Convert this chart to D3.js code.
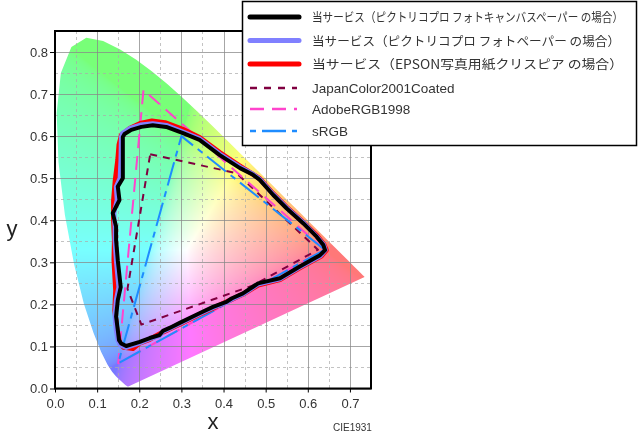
<!DOCTYPE html>
<html><head><meta charset="utf-8">
<script src="https://cdn.jsdelivr.net/npm/d3@7"></script>
<style>
html,body{margin:0;padding:0;background:#fff;}
#wrap{position:relative;width:640px;height:437px;overflow:hidden;}
#wrap canvas,#wrap svg{position:absolute;left:0;top:0;}
</style></head><body><div id="wrap"></div>
<script>
// CIE 1931 spectral locus (380-700nm)
const locusX=[0.1741,0.1740,0.1738,0.1736,0.1733,0.1730,0.1726,0.1721,0.1714,0.1703,0.1689,0.1669,0.1644,0.1611,0.1566,0.1510,0.1440,0.1355,0.1241,0.1096,0.0913,0.0687,0.0454,0.0235,0.0082,0.0039,0.0139,0.0389,0.0743,0.1142,0.1547,0.1929,0.2296,0.2658,0.3016,0.3373,0.3731,0.4087,0.4441,0.4788,0.5125,0.5448,0.5752,0.6029,0.6270,0.6482,0.6658,0.6801,0.6915,0.7006,0.7079,0.7140,0.7190,0.7230,0.7260,0.7283,0.7300,0.7311,0.7320,0.7334,0.7347];
const locusY=[0.0050,0.0050,0.0049,0.0049,0.0048,0.0048,0.0048,0.0048,0.0051,0.0058,0.0069,0.0086,0.0109,0.0138,0.0177,0.0227,0.0297,0.0399,0.0578,0.0868,0.1327,0.2007,0.2950,0.4127,0.5384,0.6548,0.7502,0.8120,0.8338,0.8262,0.8059,0.7816,0.7543,0.7243,0.6923,0.6589,0.6245,0.5896,0.5547,0.5202,0.4866,0.4544,0.4242,0.3965,0.3725,0.3514,0.3340,0.3197,0.3083,0.2993,0.2920,0.2859,0.2809,0.2770,0.2740,0.2717,0.2700,0.2689,0.2680,0.2666,0.2653];

const xTicks=[0.0,0.1,0.2,0.3,0.4,0.5,0.6,0.7];
const yTicks=[0.0,0.1,0.2,0.3,0.4,0.5,0.6,0.7,0.8];
const xMinor=[0.05,0.15,0.25,0.35,0.45,0.55,0.65,0.75];
const yMinor=[0.05,0.15,0.25,0.35,0.45,0.55,0.65,0.75,0.85];

// gamut outlines (x,y chromaticity)
const canvasPaper=[[0.165,0.605],[0.181,0.615],[0.205,0.622],[0.232,0.626],[0.264,0.622],[0.304,0.607],[0.343,0.591],[0.391,0.555],[0.439,0.524],[0.470,0.508],[0.486,0.496],[0.518,0.460],[0.550,0.428],[0.589,0.393],[0.621,0.361],[0.637,0.341],[0.641,0.329],[0.629,0.317],[0.581,0.290],[0.534,0.262],[0.482,0.250],[0.470,0.242],[0.446,0.226],[0.419,0.214],[0.407,0.206],[0.375,0.194],[0.343,0.179],[0.296,0.156],[0.272,0.144],[0.256,0.137],[0.248,0.127],[0.225,0.120],[0.201,0.111],[0.169,0.101],[0.157,0.107],[0.152,0.115],[0.149,0.139],[0.145,0.171],[0.149,0.210],[0.156,0.241],[0.149,0.305],[0.145,0.353],[0.145,0.385],[0.137,0.417],[0.153,0.448],[0.149,0.480],[0.161,0.500],[0.161,0.543],[0.161,0.598],[0.165,0.605]];
const photoPaper=[[0.160,0.607],[0.178,0.619],[0.203,0.627],[0.232,0.630],[0.264,0.626],[0.304,0.610],[0.343,0.594],[0.391,0.558],[0.439,0.527],[0.470,0.510],[0.486,0.498],[0.518,0.462],[0.550,0.430],[0.589,0.395],[0.621,0.362],[0.638,0.342],[0.642,0.329],[0.630,0.315],[0.581,0.288],[0.534,0.260],[0.482,0.248],[0.470,0.240],[0.446,0.224],[0.419,0.212],[0.407,0.204],[0.375,0.192],[0.343,0.177],[0.296,0.154],[0.272,0.142],[0.256,0.135],[0.248,0.125],[0.225,0.118],[0.201,0.108],[0.169,0.097],[0.155,0.103],[0.149,0.115],[0.145,0.139],[0.142,0.171],[0.145,0.210],[0.151,0.241],[0.145,0.305],[0.142,0.353],[0.142,0.385],[0.140,0.417],[0.147,0.448],[0.145,0.480],[0.154,0.500],[0.156,0.543],[0.157,0.598],[0.160,0.607]];
const epsonPaper=[[0.158,0.603],[0.178,0.619],[0.202,0.630],[0.230,0.636],[0.261,0.632],[0.302,0.617],[0.343,0.597],[0.391,0.561],[0.439,0.529],[0.486,0.499],[0.517,0.464],[0.550,0.431],[0.588,0.396],[0.622,0.363],[0.638,0.343],[0.644,0.329],[0.632,0.315],[0.581,0.287],[0.534,0.259],[0.482,0.246],[0.446,0.224],[0.405,0.205],[0.375,0.191],[0.343,0.176],[0.296,0.153],[0.256,0.134],[0.225,0.117],[0.201,0.108],[0.185,0.095],[0.163,0.098],[0.153,0.110],[0.147,0.139],[0.142,0.186],[0.144,0.233],[0.140,0.305],[0.141,0.352],[0.139,0.400],[0.139,0.447],[0.143,0.495],[0.149,0.543],[0.152,0.580],[0.158,0.603]];
const japanColor=[[0.226,0.557],[0.431,0.512],[0.624,0.330],[0.470,0.245],[0.205,0.152],[0.172,0.237],[0.226,0.557]];
const adobeRGB=[[0.64,0.33],[0.21,0.71],[0.15,0.06],[0.64,0.33]];
const sRGB=[[0.64,0.33],[0.30,0.60],[0.15,0.06],[0.64,0.33]];

const legendLabels=["当サービス（ピクトリコプロ フォトキャンバスペーパー の場合）","当サービス（ピクトリコプロ フォトペーパー の場合）","当サービス（EPSON写真用紙クリスピア の場合）","JapanColor2001Coated","AdobeRGB1998","sRGB"];

const W=640,H=437;
const x=d3.scaleLinear().domain([0,0.75]).range([55,371]);
const y=d3.scaleLinear().domain([0,0.85]).range([388.5,31]);

const wrap=d3.select("#wrap");
// ---- colour fill on canvas ----
const cv=wrap.append("canvas").attr("width",W).attr("height",H).node();
const ctx=cv.getContext("2d");
const off=document.createElement("canvas");off.width=W;off.height=H;
const octx=off.getContext("2d");
const img=octx.createImageData(W,H);
function toRGB(cx,cy){
  if(cy<=0.0005)cy=0.0005;
  const X=cx/cy,Y=1,Z=(1-cx-cy)/cy;
  let r=3.2406*X-1.5372*Y-0.4986*Z,g=-0.9689*X+1.8758*Y+0.0415*Z,b=0.0557*X-0.2040*Y+1.0570*Z;
  r=Math.max(r,0);g=Math.max(g,0);b=Math.max(b,0);
  const m=Math.max(r,g,b)||1;r/=m;g/=m;b/=m;
  const gm=v=>v<=0.0031308?12.92*v:1.055*Math.pow(v,1/2.4)-0.055;
  const w=0.47;
  return [255*(w+(1-w)*gm(r)),255*(w+(1-w)*gm(g)),255*(w+(1-w)*gm(b))];
}
for(let py=Math.floor(y(0.85));py<=Math.ceil(y(0));py++){
  for(let px=Math.floor(x(0));px<=Math.ceil(x(0.75));px++){
    const c=toRGB(x.invert(px+0.5),y.invert(py+0.5));
    const i=(py*W+px)*4;img.data[i]=c[0];img.data[i+1]=c[1];img.data[i+2]=c[2];img.data[i+3]=255;
  }
}
octx.putImageData(img,0,0);
ctx.save();
ctx.beginPath();
d3.line().x(d=>x(d[0])).y(d=>y(d[1])).context(ctx)(locusX.map((v,i)=>[v,locusY[i]]));
ctx.closePath();ctx.clip();
ctx.drawImage(off,0,0);
ctx.restore();

// ---- svg overlay ----
const svg=wrap.append("svg").attr("width",W).attr("height",H);
const font="'Liberation Sans',Arial,sans-serif";
const g=svg.append("g");
// grid
g.selectAll(".vminor").data(xMinor).join("line").attr("x1",d=>Math.round(x(d))+0.5).attr("x2",d=>Math.round(x(d))+0.5).attr("y1",y(0.85)).attr("y2",y(0)).attr("stroke","#aaa").attr("stroke-opacity",0.7).attr("stroke-dasharray","3,3");
g.selectAll(".hminor").data(yMinor).join("line").attr("y1",d=>Math.round(y(d))+0.5).attr("y2",d=>Math.round(y(d))+0.5).attr("x1",x(0)).attr("x2",x(0.75)).attr("stroke","#aaa").attr("stroke-opacity",0.7).attr("stroke-dasharray","3,3");
g.selectAll(".vmajor").data(xTicks).join("line").attr("x1",d=>Math.round(x(d))+0.5).attr("x2",d=>Math.round(x(d))+0.5).attr("y1",y(0.85)).attr("y2",y(0)).attr("stroke","#888").attr("stroke-opacity",0.75);
g.selectAll(".hmajor").data(yTicks).join("line").attr("y1",d=>Math.round(y(d))+0.5).attr("y2",d=>Math.round(y(d))+0.5).attr("x1",x(0)).attr("x2",x(0.75)).attr("stroke","#888").attr("stroke-opacity",0.75);

const line=d3.line().x(d=>x(d[0])).y(d=>y(d[1]));
const gam=svg.append("g").attr("fill","none").attr("stroke-linejoin","round").attr("stroke-linecap","round");
gam.append("path").attr("d",line(japanColor)).attr("stroke","#800040").attr("stroke-width",2).attr("stroke-dasharray","7,6").attr("stroke-linecap","butt");
gam.append("path").attr("d",line(adobeRGB)).attr("stroke","#ff44cc").attr("stroke-width",2).attr("stroke-dasharray","14,8").attr("stroke-linecap","butt");
gam.append("path").attr("d",line(sRGB)).attr("stroke","#1e8cff").attr("stroke-width",2).attr("stroke-dasharray","24,6,6,6").attr("stroke-linecap","butt");
gam.append("path").attr("d",line(epsonPaper)).attr("stroke","#ff0000").attr("stroke-width",5);
gam.append("path").attr("d",line(photoPaper)).attr("stroke","#8080ff").attr("stroke-width",4.5);
gam.append("path").attr("d",line(canvasPaper)).attr("stroke","#000").attr("stroke-width",4);

// frame
svg.append("rect").attr("x",x(0)).attr("y",y(0.85)).attr("width",x(0.75)-x(0)).attr("height",y(0)-y(0.85)).attr("fill","none").attr("stroke","#000").attr("stroke-width",2);
// axes ticks and labels
const xa=svg.append("g").attr("transform",`translate(0,${y(0)})`).call(d3.axisBottom(x).tickValues(xTicks).tickFormat(d3.format(".1f")).tickSize(4).tickSizeOuter(0));
const ya=svg.append("g").attr("transform",`translate(${x(0)},0)`).call(d3.axisLeft(y).tickValues(yTicks).tickFormat(d3.format(".1f")).tickSize(5).tickSizeOuter(0));
[xa,ya].forEach(a=>{a.select(".domain").remove();a.selectAll("line").attr("stroke","#000");a.selectAll("text").attr("font-family",font).attr("font-size",13).attr("fill","#333");});
xa.selectAll("text").attr("dy","0.71em").attr("y",10);
ya.selectAll("text").attr("x",-7);
svg.append("text").attr("x",213).attr("y",429).attr("text-anchor","middle").attr("font-family",font).attr("font-size",22).attr("fill","#222").text("x");
svg.append("text").attr("x",12).attr("y",236).attr("text-anchor","middle").attr("font-family",font).attr("font-size",22).attr("fill","#222").text("y");
svg.append("text").attr("x",333).attr("y",431).attr("font-family",font).attr("font-size",10).attr("fill","#333").text("CIE1931");

// legend
const lg=svg.append("g");
lg.append("rect").attr("x",242.5).attr("y",1.5).attr("width",394).attr("height",144).attr("fill","#fff").attr("stroke","#000").attr("stroke-width",1.5);
const rowY=[17,40.5,64,88,109,131];
const lstyle=[
 {c:"#000",w:5,d:null,cap:"round"},
 {c:"#8080ff",w:5,d:null,cap:"round"},
 {c:"#ff0000",w:5,d:null,cap:"round"},
 {c:"#800040",w:2.5,d:"7,7",cap:"butt"},
 {c:"#ff44cc",w:2.5,d:"14,8",cap:"butt"},
 {c:"#1e8cff",w:2.5,d:"24,6,6,6",cap:"butt",off:30}
];
const textLen=[311,308,311,null,null,null];
legendLabels.forEach((t,i)=>{
  const s=lstyle[i];
  lg.append("line").attr("x1",250).attr("x2",i<3?299:297).attr("y1",rowY[i]).attr("y2",rowY[i]).attr("stroke",s.c).attr("stroke-width",s.w).attr("stroke-linecap",s.cap).attr("stroke-dasharray",s.d).attr("stroke-dashoffset",s.off||0);
  const tx=lg.append("text").attr("x",312).attr("y",rowY[i]+5).attr("font-family",i<3?"'Noto Sans CJK JP',sans-serif":font).attr("font-size",i<3?12.5:13.5).attr("fill","#333").text(t);
  if(textLen[i])tx.attr("textLength",textLen[i]).attr("lengthAdjust","spacingAndGlyphs");
});
</script></body></html>
